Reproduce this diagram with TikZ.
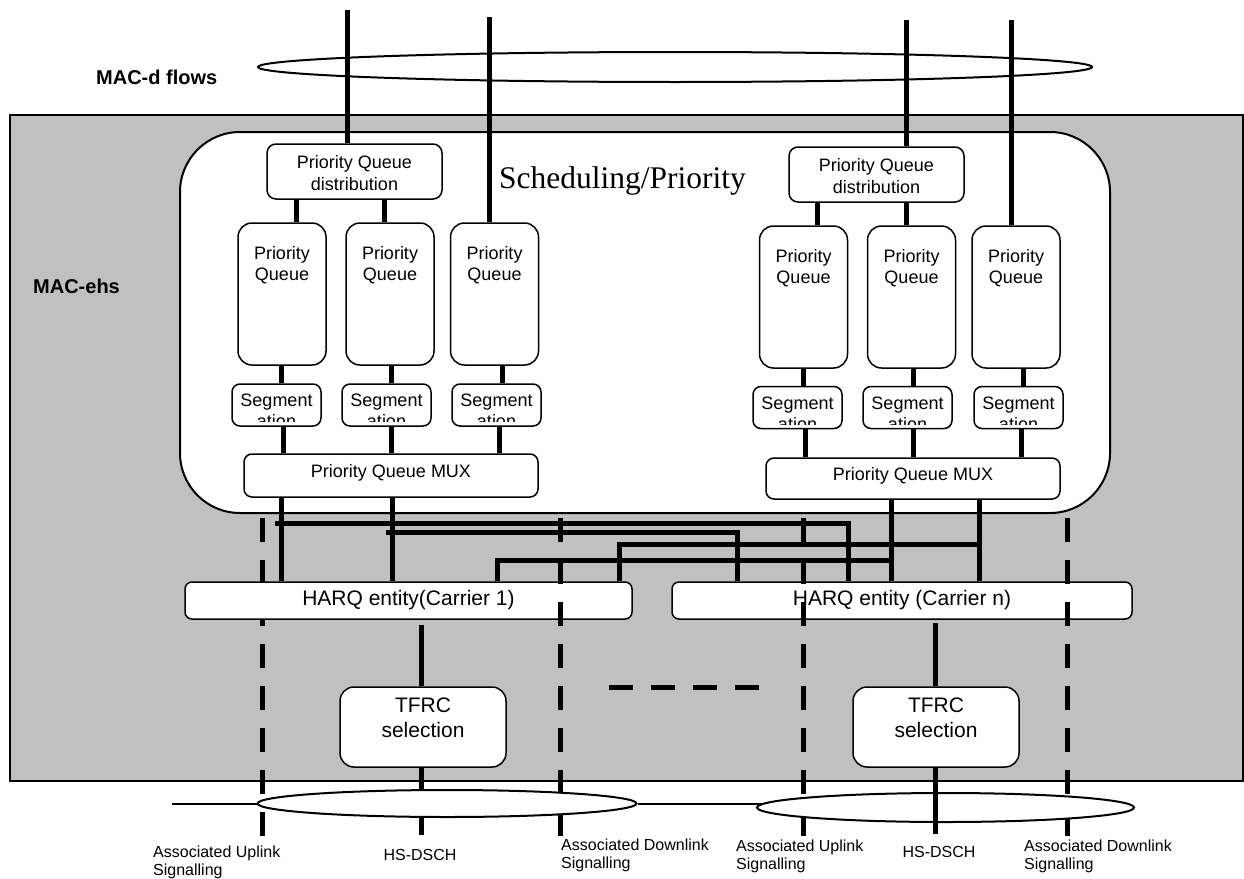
\documentclass[tikz,border=0pt]{standalone}
\usepackage{fontspec}
\setmainfont{Liberation Sans}
\newfontfamily\serifF{Liberation Serif}
\usetikzlibrary{shapes.geometric}
\definecolor{bggray}{HTML}{C0C0C0}
\pgfdeclarelayer{back}
\pgfdeclarelayer{wires}
\pgfdeclarelayer{front}
\pgfdeclarelayer{thin}
\pgfdeclarelayer{top}
\pgfsetlayers{back,wires,main,front,thin,top}
\begin{document}
\begin{tikzpicture}[x=1pt,y=-1pt,
 qbox/.style={draw, line width=1.5pt, fill=white, inner sep=0pt},
 wire/.style={line width=5pt},
 dline/.style={line width=5pt, dash pattern=on 24pt off 18pt},
 thinline/.style={line width=2pt},
 txt/.style={inner sep=0pt, anchor=base, font=\fontsize{18}{21}\selectfont},
 bigtxt/.style={inner sep=0pt, anchor=base, font=\fontsize{21}{25}\selectfont},
 lbl/.style={inner sep=0pt, anchor=base west, font=\fontsize{16}{18}\selectfont},
 oval/.style={ellipse, draw, line width=2pt, fill=white, inner sep=0pt},
]
\useasboundingbox (0,0) rectangle (1244,878);

% ---------- background ----------
\begin{pgfonlayer}{back}
\fill[bggray] (10,115) rectangle (1243,781);
\draw[line width=1.5pt] (10,115) rectangle (1243,781);
\node[qbox, line width=2pt, rounded corners=60pt, minimum width=930pt, minimum height=381pt] (sched) at (645,322.5) {};
\node[oval, minimum width=834pt, minimum height=30pt] (macd) at (675,67) {};
\end{pgfonlayer}

% ---------- boxes ----------
\node[qbox, rounded corners=9pt, minimum width=175pt, minimum height=55pt] (dist1) at (354.5,171.5) {};
\node[qbox, rounded corners=9pt, minimum width=175pt, minimum height=55pt] (dist2) at (876.5,174.5) {};
\foreach \n/\cx/\cy in {pq1/282/294, pq2/390/294, pq3/494.5/294, pq4/803.5/297, pq5/911.5/297, pq6/1016/297}
  \node[qbox, rounded corners=14pt, minimum width=88pt, minimum height=142pt] (\n) at (\cx,\cy) {};
\foreach \n/\cx/\cy in {seg1/276.5/405, seg2/386.5/405, seg3/496.5/405, seg4/797.5/407.5, seg5/907.5/407.5, seg6/1018.5/407.5}
  \node[qbox, rounded corners=8pt, minimum width=89pt, minimum height=42pt] (\n) at (\cx,\cy) {};
\node[qbox, rounded corners=8pt, minimum width=294pt, minimum height=43pt] (mux1) at (391,475.5) {};
\node[qbox, rounded corners=8pt, minimum width=294pt, minimum height=41pt] (mux2) at (913,478.5) {};
\node[qbox, rounded corners=7pt, minimum width=447pt, minimum height=37pt] (harq1) at (408.5,600.5) {};
\node[qbox, rounded corners=7pt, minimum width=460pt, minimum height=37pt] (harq2) at (902,600.5) {};
\node[qbox, rounded corners=14pt, minimum width=166pt, minimum height=80pt] (tfrc1) at (423,727) {};
\node[qbox, rounded corners=14pt, minimum width=166pt, minimum height=80pt] (tfrc2) at (936,727) {};

% ---------- texts in boxes ----------
\node[txt] (d1a) at (354.5,168) {Priority Queue};
\node[txt] (d1b) at (354.5,190) {distribution};
\node[txt] (d2a) at (876.5,171) {Priority Queue};
\node[txt] (d2b) at (876.5,193) {distribution};
\foreach \n/\cx/\by in {pq1/282/259, pq2/390/259, pq3/494.5/259, pq4/803.5/262, pq5/911.5/262, pq6/1016/262}{
  \node[txt] (\n a) at (\cx,\by) {Priority};
  \node[txt] (\n b) at (\cx,\by+21) {Queue};
}
\foreach \n/\cx/\by in {seg1/276.5/406, seg2/386.5/406, seg3/496.5/406, seg4/797.5/409, seg5/907.5/409, seg6/1018.5/409}{
  \node[txt] (\n a) at (\cx,\by) {Segment};
  \begin{scope}
    \clip (\n.north west) rectangle ([yshift=5pt]\n.south east);
    \node[txt] (\n b) at (\cx,\by+21) {ation};
  \end{scope}
}
\node[txt] (m1t) at (391,477) {Priority Queue MUX};
\node[txt] (m2t) at (913,480) {Priority Queue MUX};
\node[bigtxt] (h1t) at (408.5,605) {HARQ entity(Carrier 1)};
\node[bigtxt] (h2t) at (902,605) {HARQ entity (Carrier n)};
\node[bigtxt] (t1a) at (423,712) {TFRC};
\node[bigtxt] (t1b) at (423,737) {selection};
\node[bigtxt] (t2a) at (936,712) {TFRC};
\node[bigtxt] (t2b) at (936,737) {selection};

\node[inner sep=0pt, anchor=base west, font=\serifF\fontsize{31.5}{36}\selectfont] (schedt) at (499,188) {Scheduling/Priority};
\node[inner sep=0pt, anchor=base west, font=\bfseries\fontsize{20}{24}\selectfont] (macdt) at (96,84) {MAC-d flows};
\node[inner sep=0pt, anchor=base west, font=\bfseries\fontsize{20}{24}\selectfont] (macet) at (33,293) {MAC-ehs};

% ---------- wires ----------
\begin{pgfonlayer}{wires}
\coordinate (tp1) at (347,10);
\coordinate (tp2) at (489,17);
\coordinate (tp3) at (906,20);
\coordinate (tp4) at (1011,20);
\draw[wire] (tp1) -- (tp1 |- dist1.north);
\draw[wire] (tp2) -- (tp2 |- pq3.north);
\draw[wire] (tp3) -- (tp3 |- dist2.north);
\draw[wire] (tp4) -- (tp4 |- pq6.north);
% distribution -> queues
\draw[wire] (296,0 |- dist1.south) -- (296,0 |- pq1.north);
\draw[wire] (384,0 |- dist1.south) -- (384,0 |- pq2.north);
\draw[wire] (817,0 |- dist2.south) -- (817,0 |- pq4.north);
\draw[wire] (906,0 |- dist2.south) -- (906,0 |- pq5.north);
% queues -> segmentation
\draw[wire] (281,0 |- pq1.south) -- (281,0 |- seg1.north);
\draw[wire] (391,0 |- pq2.south) -- (391,0 |- seg2.north);
\draw[wire] (502,0 |- pq3.south) -- (502,0 |- seg3.north);
\draw[wire] (803,0 |- pq4.south) -- (803,0 |- seg4.north);
\draw[wire] (913,0 |- pq5.south) -- (913,0 |- seg5.north);
\draw[wire] (1023,0 |- pq6.south) -- (1023,0 |- seg6.north);
% segmentation -> mux
\draw[wire] (283,0 |- seg1.south) -- (283,0 |- mux1.north);
\draw[wire] (391,0 |- seg2.south) -- (391,0 |- mux1.north);
\draw[wire] (499,0 |- seg3.south) -- (499,0 |- mux1.north);
\draw[wire] (805,0 |- seg4.south) -- (805,0 |- mux2.north);
\draw[wire] (913,0 |- seg5.south) -- (913,0 |- mux2.north);
\draw[wire] (1021,0 |- seg6.south) -- (1021,0 |- mux2.north);
% mux -> harq
\draw[wire] (281,0 |- mux1.south) -- (281,0 |- harq1.north);
\draw[wire] (392,0 |- mux1.south) -- (392,0 |- harq1.north);
\draw[wire] (891,0 |- mux2.south) -- (891,0 |- harq2.north);
\draw[wire] (979,0 |- mux2.south) -- (979,0 |- harq2.north);
% cross connections
\coordinate (x1a) at (275,523); \coordinate (x1b) at (848,523);
\coordinate (x2a) at (386,532); \coordinate (x2b) at (737,532);
\coordinate (x3a) at (979,544); \coordinate (x3b) at (619,544);
\coordinate (x4a) at (891,560); \coordinate (x4b) at (497,560);
\draw[wire] (x1a) -- (x1b) -- (x1b |- harq2.north);
\draw[wire] (x2a) -- (x2b) -- (x2b |- harq2.north);
\draw[wire] (x3a) -- (x3b) -- (x3b |- harq1.north);
\draw[wire] (x4a) -- (x4b) -- (x4b |- harq1.north);
% harq -> tfrc -> hs-dsch
\coordinate (hq1) at (421,625);
\coordinate (hq2) at (935,623);
\coordinate (hs1) at (421,835);
\draw[wire] (hq1) -- (hq1 |- tfrc1.north);
\draw[wire] (hq2) -- (hq2 |- tfrc2.north);
\draw[wire] (hs1 |- tfrc1.south) -- (hs1);
% dashed signalling (behind carrier 1 box)
\coordinate (ds1a) at (262,518); \coordinate (ds1b) at (262,836);
\draw[dline] (ds1a) -- (ds1b);
\end{pgfonlayer}

% ---------- dashed lines in front ----------
\begin{pgfonlayer}{front}
\coordinate (ds2a) at (560,518); \coordinate (ds2b) at (560,836);
\coordinate (ds3a) at (803,518); \coordinate (ds3b) at (803,836);
\coordinate (ds4a) at (1067,518); \coordinate (ds4b) at (1067,836);
\draw[dline] (ds2a) -- (ds2b);
\draw[dline] (ds3a) -- (ds3b);
\draw[dline] (ds4a) -- (ds4b);
\coordinate (dotsa) at (609,687); \coordinate (dotsb) at (760,687);
\draw[dline] (dotsa) -- (dotsb);
\end{pgfonlayer}

% ---------- bottom ellipses ----------
\begin{pgfonlayer}{top}
\node[oval, minimum width=379pt, minimum height=27pt] (ell1) at (447,803.5) {};
\node[oval, minimum width=377pt, minimum height=29pt] (ell2) at (945.5,807.5) {};
\coordinate (hs2) at (935,834);
\draw[wire] (hs2 |- tfrc2.south) -- (hs2);
\end{pgfonlayer}
\begin{pgfonlayer}{thin}
\coordinate (sig0) at (172,803.5);
\draw[thinline] (sig0) -- (ell1.west);
\draw[thinline] (ell1.east) -- (ell1.east -| ell2.center);
\end{pgfonlayer}

% ---------- bottom labels ----------
\node[lbl] (l1a) at (153,857) {Associated Uplink};
\node[lbl] (l1b) at (153,875) {Signalling};
\node[lbl, anchor=base] (l2) at (420,860) {HS-DSCH};
\node[lbl] (l3a) at (561,850) {Associated Downlink};
\node[lbl] (l3b) at (561,868) {Signalling};
\node[lbl] (l4a) at (736,851) {Associated Uplink};
\node[lbl] (l4b) at (736,869) {Signalling};
\node[lbl, anchor=base] (l5) at (939,857) {HS-DSCH};
\node[lbl] (l6a) at (1024,851) {Associated Downlink};
\node[lbl] (l6b) at (1024,869) {Signalling};
\end{tikzpicture}
\end{document}
